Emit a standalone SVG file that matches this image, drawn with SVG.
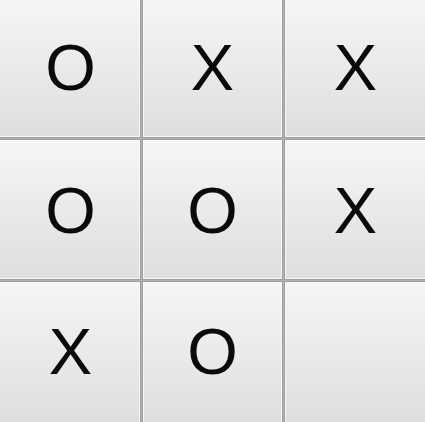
<svg xmlns="http://www.w3.org/2000/svg" width="425" height="422" viewBox="0 0 425 422">
  <defs>
    <linearGradient id="btn" x1="0" y1="0" x2="0" y2="1">
      <stop offset="0" stop-color="#f6f6f6"/>
      <stop offset="1" stop-color="#dedede"/>
    </linearGradient>
  </defs>
  <style>
    .cell { fill: url(#btn); stroke: #9e9e9e; stroke-width: 1; }
    .hl { fill: none; stroke: #fbfbfb; stroke-width: 1; opacity: 0.8; }
    .mark { font-family: "Liberation Sans", Arial, sans-serif; font-size: 65px; fill: #0a0a0a; text-anchor: middle; }
  </style>
  <rect x="0" y="0" width="425" height="422" fill="#b4b4b4"/>
  <g id="cell-0-0"><rect class="cell" x="-1.5" y="-3.5" width="142" height="141"/><rect class="hl" x="-0.5" y="-2.5" width="140" height="139"/><text class="mark" x="70.5" y="90">O</text></g>
  <g id="cell-0-1"><rect class="cell" x="142.5" y="-3.5" width="140" height="141"/><rect class="hl" x="143.5" y="-2.5" width="138" height="139"/><text class="mark" x="212.5" y="90">X</text></g>
  <g id="cell-0-2"><rect class="cell" x="284.5" y="-3.5" width="142" height="141"/><rect class="hl" x="285.5" y="-2.5" width="140" height="139"/><text class="mark" x="355.5" y="90">X</text></g>
  <g id="cell-1-0"><rect class="cell" x="-1.5" y="139.5" width="142" height="140"/><rect class="hl" x="-0.5" y="140.5" width="140" height="138"/><text class="mark" x="70.5" y="232.5">O</text></g>
  <g id="cell-1-1"><rect class="cell" x="142.5" y="139.5" width="140" height="140"/><rect class="hl" x="143.5" y="140.5" width="138" height="138"/><text class="mark" x="212.5" y="232.5">O</text></g>
  <g id="cell-1-2"><rect class="cell" x="284.5" y="139.5" width="142" height="140"/><rect class="hl" x="285.5" y="140.5" width="140" height="138"/><text class="mark" x="355.5" y="232.5">X</text></g>
  <g id="cell-2-0"><rect class="cell" x="-1.5" y="281.5" width="142" height="142"/><rect class="hl" x="-0.5" y="282.5" width="140" height="140"/><text class="mark" x="70.5" y="374">X</text></g>
  <g id="cell-2-1"><rect class="cell" x="142.5" y="281.5" width="140" height="142"/><rect class="hl" x="143.5" y="282.5" width="138" height="140"/><text class="mark" x="212.5" y="374">O</text></g>
  <g id="cell-2-2"><rect class="cell" x="284.5" y="281.5" width="142" height="142"/><rect class="hl" x="285.5" y="282.5" width="140" height="140"/></g>
  <g id="connectors"/>
</svg>
